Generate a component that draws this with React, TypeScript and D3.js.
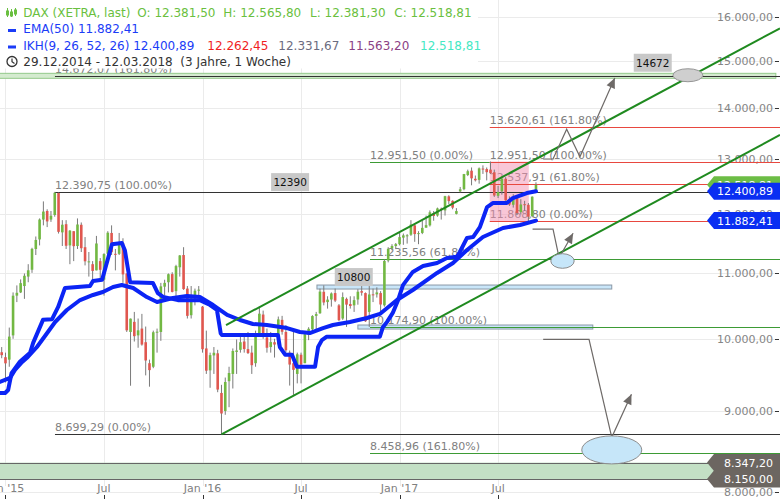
import React, { useEffect } from 'react';
import * as d3 from 'd3';

const FONT = '"DejaVu Sans", sans-serif';

// weekly candles, week 0 = 29.12.2014
const opens = [9806, 9735, 9700, 10050, 10650, 10700, 10800, 10950, 11060, 11400,
  11560, 11900, 12050, 11900, 11980, 12370, 11680, 11820, 11460, 11700,
  11450, 11810, 11430, 11180, 11150, 11050, 11200, 10900, 11320, 11670,
  11320, 11320, 11500, 11000, 10100, 10250, 10050, 10150, 9950, 9650,
  9600, 10090, 10100, 10790, 10860, 10990, 10720, 11100, 11300, 10760,
  10350, 10600, 10730, 10480, 9860, 9550, 9760, 9790, 9240, 9000,
  9400, 9500, 9810, 9840, 9960, 9850, 9800, 9650, 10050, 10360,
  10020, 9880, 9950, 9920, 10280, 10100, 9800, 9650, 9500, 9770,
  9650, 10060, 10140, 10340, 10380, 10710, 10550, 10590, 10690, 10500,
  10300, 10600, 10520, 10500, 10590, 10720, 10690, 10400, 10670, 10670,
  10690, 10500, 11210, 11410, 11450, 11480, 11590, 11620, 11640, 11800,
  11660, 11670, 11760, 11800, 12010, 11970, 12090, 12060, 12310, 12230,
  12000, 12400, 12440, 12700, 12780, 12630, 12610, 12820, 12810, 12800,
  12750, 12320, 12400, 12630, 12250, 12160, 12300, 12030, 12170, 12160,
  11960, 12381.5];
const highs = [9880, 9800, 10165, 10700, 10810, 10905, 11000, 11150, 11420, 11610,
  11920, 12220, 12080, 12050, 12390.75, 12380, 11890, 11890, 11720, 11700,
  11920, 11850, 11600, 11350, 11200, 11620, 11250, 11330, 11700, 11800,
  11400, 11670, 11580, 11000, 10300, 10400, 10300, 10370, 10180, 9700,
  10120, 10150, 10850, 10900, 11000, 11020, 11140, 11300, 11430, 10800,
  10800, 10760, 10800, 10490, 10120, 9800, 9880, 9840, 9350, 9450,
  9600, 9860, 9990, 10050, 10060, 10100, 9900, 10120, 10480, 10420,
  10150, 10100, 10000, 10330, 10340, 10200, 9830, 10130, 9800, 9800,
  10100, 10170, 10350, 10400, 10760, 10810, 10640, 10700, 10760, 10520,
  10700, 10620, 10640, 10640, 10750, 10800, 10700, 10800, 10760, 10780,
  10720, 11230, 11430, 11480, 11500, 11670, 11660, 11650, 11890, 11830,
  11700, 11880, 11970, 12060, 12050, 12110, 12110, 12320, 12330, 12240,
  12100, 12480, 12720, 12800, 12840, 12690, 12840, 12880, 12840, 12951.5,
  12800, 12500, 12650, 12660, 12310, 12350, 12320, 12260, 12230, 12190,
  12310, 12565.8];
const lows = [9720, 9382, 9600, 10000, 10550, 10690, 10600, 10860, 11010, 11300,
  11460, 11800, 11770, 11860, 11950, 11660, 11450, 11400, 11150, 11200,
  11400, 11350, 11130, 10950, 10850, 11050, 10870, 10650, 11300, 11300,
  11050, 11300, 10850, 10100, 9338, 9960, 9870, 9900, 9480, 9325,
  9580, 9800, 9970, 10650, 10700, 10700, 10640, 10950, 10740, 10300,
  10300, 10500, 10650, 9800, 9500, 9310, 9500, 9250, 8699.29, 8950,
  9050, 9300, 9500, 9800, 9800, 9780, 9500, 9600, 10040, 10000,
  9800, 9800, 9730, 9900, 10060, 9800, 9340, 9214, 9370, 9370,
  9650, 9980, 10080, 10100, 10370, 10500, 10450, 10480, 10550, 10260,
  10280, 10175, 10450, 10400, 10510, 10650, 10250, 10174.9, 10550, 10620,
  10400, 10480, 11180, 11380, 11400, 11460, 11470, 11490, 11620, 11520,
  11480, 11650, 11760, 11780, 11880, 11950, 11900, 11970, 12170, 12080,
  11990, 12380, 12420, 12680, 12510, 12580, 12540, 12720, 12600, 12720,
  12300, 12280, 12340, 12230, 12140, 12110, 11980, 11990, 12050, 11868.8,
  11940, 12381.3];
const closes = [9764, 9648, 10032, 10649, 10694, 10846, 10963, 11051, 11402, 11551,
  11901, 12040, 11868, 11967, 12375, 11689, 11811, 11454, 11709, 11447,
  11815, 11413, 11197, 11196, 11041, 11492, 11059, 11316, 11674, 11347,
  11309, 11490, 10985, 10124, 10298, 10038, 10124, 9916, 9688, 9553,
  10096, 10104, 10795, 10850, 10988, 10708, 11119, 11293, 10752, 10340,
  10608, 10727, 10743, 9849, 9545, 9764, 9798, 9286, 8967, 9389,
  9513, 9824, 9831, 9950, 9851, 9794, 9622, 10051, 10373, 10039,
  9870, 9952, 9916, 10287, 10103, 9834, 9631, 9557, 9776, 9630,
  10066, 10147, 10337, 10367, 10713, 10544, 10588, 10684, 10573, 10276,
  10627, 10511, 10490, 10580, 10711, 10696, 10259, 10668, 10664, 10700,
  10513, 11203, 11404, 11450, 11481, 11599, 11629, 11630, 11814, 11651,
  11667, 11757, 11804, 12027, 11963, 12095, 12064, 12313, 12225, 12109,
  12049, 12438, 12717, 12770, 12638, 12602, 12823, 12816, 12752, 12733,
  12325, 12389, 12632, 12240, 12163, 12298, 12014, 12165, 12168, 11950,
  12304, 12518.81];

// [week, value]
const emaPts: [number, number][] = [
  [-0.5, 9389], [2.2, 9444], [3.5, 9556], [5.4, 9667], [6.9, 9738], [9.3, 9881], [12, 10084],
  [14.1, 10248], [17.2, 10429], [20.7, 10582], [24.1, 10660], [26.7, 10706], [29.4, 10785],
  [31.7, 10816], [34.7, 10769], [38.3, 10628], [41, 10551], [45.2, 10613], [48.9, 10644],
  [52.3, 10628], [55.8, 10505], [59.5, 10354], [62.9, 10278], [66.3, 10218], [70, 10203],
  [75.3, 10158], [78.7, 10099], [81.3, 10084], [84.8, 10158], [87.4, 10203], [91.9, 10248],
  [96.4, 10308], [99.8, 10369], [104.3, 10582], [108.5, 10738], [114.9, 11008], [119.1, 11170],
  [122.8, 11384], [127, 11601], [132.3, 11754], [136.8, 11806], [141, 11882.41],
];
const tenkanPts: [number, number][] = [
  [-0.5, 9240], [0.9, 9240], [1.7, 9280], [2.6, 9510], [4.8, 9670], [7.5, 9800], [8.3, 9940],
  [10.9, 10280], [13.3, 10290], [14.9, 10475], [16.7, 10770], [23.3, 10800], [24.1, 10880],
  [26.5, 10900], [29.1, 11480], [31.7, 11500], [32.5, 11380], [33.9, 10860], [39.9, 10850],
  [41.2, 10690], [42.6, 10630], [46.5, 10580], [52.3, 10580], [55, 10505], [56.8, 10430],
  [57.8, 10080], [58.1, 10056], [72.9, 10056], [73.4, 9880], [74.8, 9770], [76.6, 9770],
  [77.9, 9600], [82.7, 9600], [83.5, 9880], [84.5, 9980], [85.8, 10030], [99.8, 10030],
  [100.6, 10170], [101.7, 10250], [103.2, 10385], [104.6, 10580], [105.9, 10815], [108.5, 11025],
  [111.2, 11120], [114.9, 11170], [117.5, 11250], [120.1, 11270], [120.9, 11350], [122.8, 11585],
  [124.4, 11600], [126.2, 11770], [128.1, 12120], [129.6, 12190], [133.3, 12190], [134.9, 12280],
  [138.6, 12370], [141, 12400.89],
];

const yTicks = [8000, 9000, 10000, 11000, 12000, 13000, 14000, 15000, 16000];
const xTickWeeks = [1, 27, 53, 79, 105, 131];
const xTickLabels = ["Jan '15", 'Jul', "Jan '16", 'Jul', "Jan '17", 'Jul'];

// fibonacci sets
const fibAValues = [14672.07, 12390.75, 8699.29];
const fibAPct = ['161.80%', '100.00%', '0.00%'];
const fibBValues = [12951.5, 11235.56, 10174.9, 8458.96];
const fibBPct = ['0.00%', '61.80%', '100.00%', '161.80%'];
const fibBEnds = [128.8, 205.4, 205.4, 205.4];
const fibCValues = [13620.61, 12951.5, 12537.91, 11868.8];
const fibCPct = ['161.80%', '100.00%', '61.80%', '0.00%'];

// channel lines [week, value]
const channelUpper: [number, number][] = [[59.2, 10203], [205.4, 15731]];
const channelLower: [number, number][] = [[58, 8699.29], [205.4, 13464]];

// zig-zag projections
const arrowTop: [number, number][] = [[142.9, 13000], [145.5, 13000], [149.1, 13576], [152.6, 13043], [161.8, 14630]];
const arrowMid: [number, number][] = [[140.1, 11737], [145.5, 11737], [147.1, 11256], [150.8, 11664]];
const arrowBot: [number, number][] = [[142.9, 9990], [155, 9990], [161, 8661], [166.2, 9223]];

// [weekFrom, weekTo, low, high]
const blueZones: [number, number, number, number][] = [[83.2, 161, 10753, 10816], [94, 156, 10143, 10203]];
const pinkZone: [number, number, number, number] = [128.8, 139.1, 11868.8, 12951.5];
const topBand: [number, number, number, number] = [-1, 204.3, 14624, 14731];
const bottomBand: [number, number, number, number] = [-1, 205.4, 8150, 8347.2];

const targetLabels = ['14672', '12390', '10800'];
const targetWeeks = [166.8, 71.1, 87.9];
const targetValues = [14765, 12405, 10800];

const ellipseWeeks = [181.1, 148, 161];
const ellipseValues = [14690, 11202, 8503];

const tagValues = [12518.81, 12400.89, 11882.41, 8347.2, 8150];
const tagColors = ['#6cbd45', '#0a2ef2', '#0a2ef2', '#6c6661', '#6c6661'];

const ohlcLabels = ['O', 'H', 'L', 'C'];
const ohlcValues = [12381.5, 12565.8, 12381.3, 12518.81];
const ikhValues = [12400.89, 12262.45, 12331.67, 11563.2, 12518.81];
const ikhColors = ['#1b3cf7', '#f01e1e', '#6b6b80', '#8b4185', '#45e8c4'];

const W = 780;
const H = 499;

const de = d3.formatLocale({ decimal: ',', thousands: '.', grouping: [3], currency: ['', ''] });
const fmt = de.format(',.2f');

const App: React.FC = () => {
  useEffect(() => {
    document.body.style.margin = '0';
  }, []);

  const x = d3.scaleLinear().domain([0, 205.4]).range([1.7, 780]);
  const y = d3.scaleLog().domain([8000, 16000]).range([491.7, 16.7]);
  const line = d3.line<[number, number]>().x(d => x(d[0])).y(d => y(d[1]));
  const cy = (v: number) => Math.round(y(v)) + 0.5;

  const arrowHead = (pts: [number, number][]) => {
    const a = pts[pts.length - 2];
    const b = pts[pts.length - 1];
    const ax = x(a[0]), ay = y(a[1]), bx = x(b[0]), by = y(b[1]);
    const ang = Math.atan2(by - ay, bx - ax);
    const bcx = bx - 10 * Math.cos(ang), bcy = by - 10 * Math.sin(ang);
    const nx = -Math.sin(ang) * 4.5, ny = Math.cos(ang) * 4.5;
    return `M${bx},${by}L${bcx + nx},${bcy + ny}L${bcx - nx},${bcy - ny}Z`;
  };

  const zoneRect = (z: [number, number, number, number]) => ({
    x: x(z[0]), y: y(z[3]), width: x(z[1]) - x(z[0]), height: y(z[2]) - y(z[3]),
  });

  const fibLabel = (v: number, p: string) => `${fmt(v)} (${p})`;
  const labelStyle = { fontFamily: FONT, fontSize: 11, fill: '#808080' };

  return (
    <svg width={W} height={H} style={{ position: 'absolute', left: 0, top: 0, display: 'block', background: '#fff' }}>
      {/* grid */}
      {yTicks.map(t => (
        <line key={`gy${t}`} x1={0} x2={776} y1={cy(t)} y2={cy(t)} stroke="#ebebeb" />
      ))}
      {xTickWeeks.map(w => (
        <line key={`gx${w}`} x1={Math.round(x(w)) + 0.5} x2={Math.round(x(w)) + 0.5} y1={0} y2={486} stroke="#ebebeb" />
      ))}

      {/* y axis */}
      {yTicks.map(t => (
        <g key={`ty${t}`}>
          <text x={773} y={y(t) + 4} textAnchor="end" {...labelStyle} fill="#858585">{fmt(t)}</text>
          <line x1={775} x2={779} y1={cy(t)} y2={cy(t)} stroke="#333" />
        </g>
      ))}
      {/* x axis */}
      {xTickWeeks.map((w, i) => (
        <g key={`tx${w}`}>
          <text x={x(w)} y={492} textAnchor="middle" {...labelStyle}>{xTickLabels[i]}</text>
          <line x1={Math.round(x(w)) + 0.5} x2={Math.round(x(w)) + 0.5} y1={495} y2={499} stroke="#333" />
        </g>
      ))}

      {/* fib labels */}
      {fibAValues.map((v, i) => (
        <text key={`fa${i}`} x={x(14.06)} y={y(v) - 3} {...labelStyle}>{fibLabel(v, fibAPct[i])}</text>
      ))}
      {fibBValues.map((v, i) => (
        <text key={`fb${i}`} x={x(97.2)} y={y(v) - 3} {...labelStyle}>{fibLabel(v, fibBPct[i])}</text>
      ))}
      {fibCValues.map((v, i) => (
        <text key={`fc${i}`} x={x(128.8)} y={y(v) - 3} {...labelStyle}>{fibLabel(v, fibCPct[i])}</text>
      ))}

      {/* bands and zones */}
      <rect {...zoneRect(topBand)} fill="#d4ebcf" stroke="#93c98a" strokeWidth={1} />
      <rect {...zoneRect(bottomBand)} fill="#c3e0c5" />
      <line x1={0} x2={780} y1={cy(bottomBand[3])} y2={cy(bottomBand[3])} stroke="#666" />
      <line x1={0} x2={780} y1={cy(bottomBand[2])} y2={cy(bottomBand[2])} stroke="#666" />
      {blueZones.map((z, i) => (
        <rect key={`bz${i}`} {...zoneRect(z)} fill="#c9e6f9" stroke="#8a98a6" strokeWidth={1} />
      ))}
      <rect {...zoneRect(pinkZone)} fill="#f390b0" opacity={0.5} />

      {/* fib lines */}
      {fibAValues.map((v, i) => (
        <line key={`la${i}`} x1={x(14.06)} x2={780} y1={cy(v)} y2={cy(v)} stroke="#333" />
      ))}
      {fibBValues.map((v, i) => (
        <line key={`lb${i}`} x1={x(97.2)} x2={x(fibBEnds[i])} y1={cy(v)} y2={cy(v)} stroke="#3d9b35" />
      ))}
      {fibCValues.map((v, i) => (
        <line key={`lc${i}`} x1={x(128.8)} x2={780} y1={cy(v)} y2={cy(v)} stroke="#e8483f" />
      ))}

      {/* candles */}
      {closes.map((c, i) => {
        const o = opens[i];
        const up = c >= o;
        const cx = x(i);
        const top = y(Math.max(o, c));
        const bot = y(Math.min(o, c));
        return (
          <g key={`c${i}`}>
            <line x1={cx} x2={cx} y1={y(highs[i])} y2={y(lows[i])} stroke="#7a7a7a" strokeWidth={1} />
            <rect x={cx - 1.3} y={top} width={2.6} height={Math.max(1, bot - top)} fill={up ? '#72b843' : '#e0574f'} />
          </g>
        );
      })}

      {/* indicators */}
      <path d={line(emaPts) || ''} fill="none" stroke="#0b24f5" strokeWidth={4} strokeLinejoin="round" strokeLinecap="round" />
      <path d={line(tenkanPts) || ''} fill="none" stroke="#0b24f5" strokeWidth={4} strokeLinejoin="round" strokeLinecap="round" />

      {/* channel */}
      <path d={line(channelUpper) || ''} fill="none" stroke="#1f8a1f" strokeWidth={2} />
      <path d={line(channelLower) || ''} fill="none" stroke="#1f8a1f" strokeWidth={2} />

      {/* projections */}
      {[arrowTop, arrowMid, arrowBot].map((pts, i) => (
        <g key={`ar${i}`}>
          <path d={line(pts) || ''} fill="none" stroke="#6e6a68" strokeWidth={1.2} />
          <path d={arrowHead(pts)} fill="#6e6a68" />
        </g>
      ))}
      <ellipse cx={x(ellipseWeeks[0])} cy={y(ellipseValues[0])} rx={15} ry={6.5} fill="#cfcfcf" stroke="#959595" />
      <ellipse cx={x(ellipseWeeks[1])} cy={y(ellipseValues[1])} rx={11.7} ry={7.3} fill="#c6e6f9" stroke="#8c8c8c" />
      <ellipse cx={x(ellipseWeeks[2])} cy={y(ellipseValues[2])} rx={30} ry={14} fill="#c6e6f9" stroke="#8c8c8c" />

      {targetLabels.map((t, i) => (
        <g key={`tl${i}`}>
          <rect x={x(targetWeeks[i])} y={y(targetValues[i]) - 18} width={38} height={18} fill="#c8c8c8" />
          <text x={x(targetWeeks[i]) + 19} y={y(targetValues[i]) - 5} textAnchor="middle"
            fontFamily={FONT} fontSize={10.5} fill="#111">{t}</text>
        </g>
      ))}

      {/* price tags */}
      {tagValues.map((v, i) => {
        const ty = y(v);
        return (
          <g key={`tag${i}`}>
            <path d={`M707,${ty}L714,${ty - 8.5}L780,${ty - 8.5}L780,${ty + 8.5}L714,${ty + 8.5}Z`} fill={tagColors[i]} />
            <text x={773} y={ty + 4} textAnchor="end" fontFamily={FONT} fontSize={11} fill="#fff">{fmt(v)}</text>
          </g>
        );
      })}

      {/* legend */}
      <rect x={0} y={0} width={478} height={68.5} fill="#fff" />
      <g fontFamily={FONT} fontSize={12}>
        <g stroke="#6abf40" strokeWidth={1}>
          <line x1={7.5} x2={7.5} y1={8} y2={17} />
          <line x1={11.5} x2={11.5} y1={9} y2={17} />
          <line x1={15.5} x2={15.5} y1={8} y2={16} />
          <rect x={6.5} y={11} width={2} height={4} fill="#6abf40" />
          <rect x={10.5} y={12} width={2} height={4} fill="#6abf40" />
          <rect x={14.5} y={10} width={2} height={4} fill="#6abf40" />
        </g>
        <text x={23.3} y={16.5} fill="#6abf40">DAX (XETRA, last)</text>
        {ohlcValues.map((v, i) => (
          <text key={`oh${i}`} x={[137.3, 223.3, 310, 394.3][i]} y={16.5} fill="#6abf40">{`${ohlcLabels[i]}: ${fmt(v)}`}</text>
        ))}
        <rect x={8} y={29} width={8} height={3} fill="#1b3cf7" />
        <text x={23.3} y={33} fill="#1b3cf7">{`EMA(50) ${fmt(emaPts[emaPts.length - 1][1])}`}</text>
        <rect x={8} y={45.5} width={8} height={3} fill="#1b3cf7" />
        <text x={23.3} y={49.5} fill={ikhColors[0]}>{`IKH(9, 26, 52, 26) ${fmt(ikhValues[0])}`}</text>
        {ikhValues.slice(1).map((v, i) => (
          <text key={`ikh${i}`} x={[207.3, 278.3, 348.3, 420][i]} y={49.5} fill={ikhColors[i + 1]}>{fmt(v)}</text>
        ))}
        <circle cx={12} cy={61.5} r={5} fill="none" stroke="#333" strokeWidth={1.3} />
        <path d="M12,58.5L12,61.8L14.5,63.5" fill="none" stroke="#333" strokeWidth={1.2} />
        <text x={23.3} y={66} fill="#333" style={{ whiteSpace: 'pre' }}>{'29.12.2014 - 12.03.2018  (3 Jahre, 1 Woche)'}</text>
      </g>
    </svg>
  );
};

export default App;
